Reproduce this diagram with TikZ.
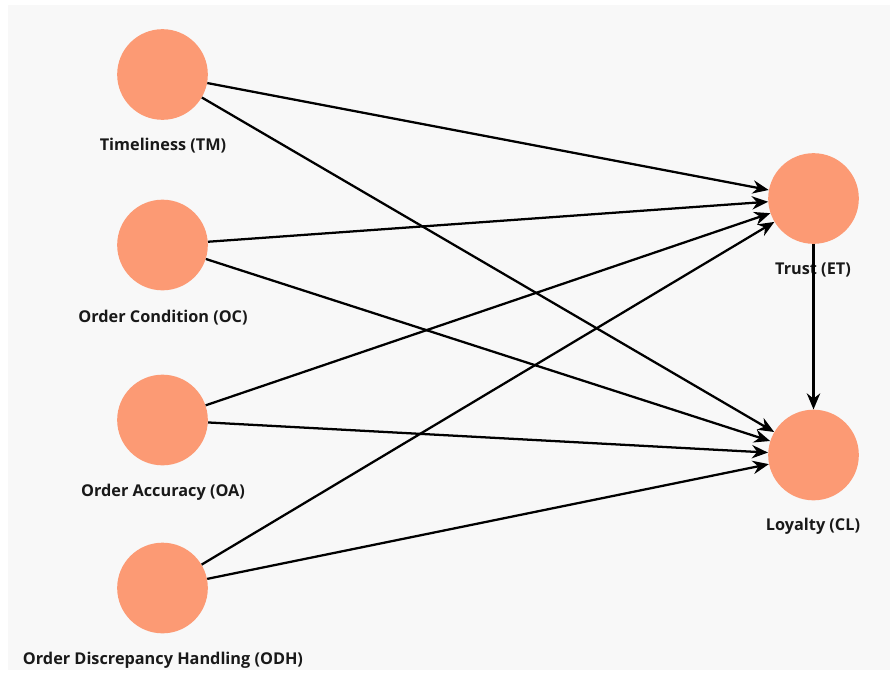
\documentclass[tikz,border=0pt]{standalone}
\usepackage{fontspec}
\setmainfont{Open Sans}
\usetikzlibrary{arrows.meta}
\definecolor{bgc}{HTML}{F8F8F8}
\definecolor{nodec}{HTML}{FC9A74}
\tikzset{
  px/.style={x=0.75pt,y=-0.75pt},
  var/.style={circle,fill=nodec,draw=none,minimum size=68pt,inner sep=0pt},
  lab/.style={font=\fontsize{12.2}{14}\selectfont\bfseries,text=black!90,inner sep=0pt},
  path/.style={line width=1.7pt,draw=black,-{Stealth[length=12pt,width=10pt]}}
}
\begin{document}
\begin{tikzpicture}[px]
\useasboundingbox (0,0) rectangle (895,675);
\fill[white] (0,0) rectangle (895,675);
\fill[bgc] (8,5) rectangle (890,670);
\node[var] (TM) at (162.5,74.5) {};
\node[var] (OC) at (162.5,245) {};
\node[var] (OA) at (162.5,420) {};
\node[var] (ODH) at (162.5,588) {};
\node[var] (ET) at (813.5,198.5) {};
\node[var] (CL) at (813.5,455) {};
\node[lab] (lTM) at (163,146) {Timeliness (TM)};
\node[lab] (lOC) at (163,318) {Order Condition (OC)};
\node[lab] (lOA) at (163,492) {Order Accuracy (OA)};
\node[lab] (lODH) at (163,660) {Order Discrepancy Handling (ODH)};
\node[lab] (lET) at (813,270) {Trust (ET)};
\node[lab] (lCL) at (813,526) {Loyalty (CL)};
\foreach \s in {TM,OC,OA,ODH}{
  \draw[path] (\s) -- (ET);
  \draw[path] (\s) -- (CL);
}
\draw[path] (ET) -- (CL);
\end{tikzpicture}
\end{document}
